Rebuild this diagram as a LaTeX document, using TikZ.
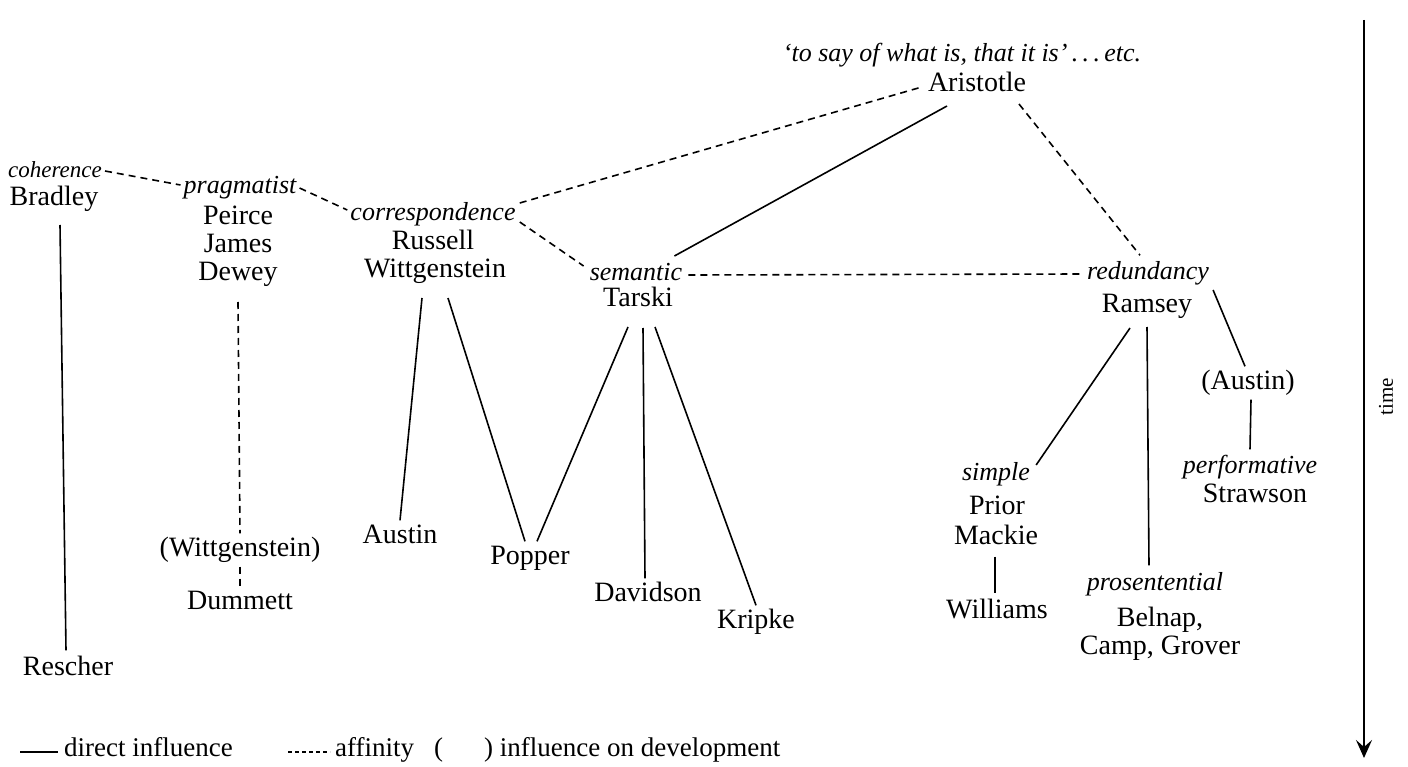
\documentclass[tikz,border=0pt]{standalone}
\usepackage{fontspec}
\setmainfont{Liberation Serif}
\usetikzlibrary{calc,arrows.meta}
\begin{document}
\begin{tikzpicture}[x=1pt,y=-1pt,
  nm/.style={inner sep=0pt, font=\fontsize{28}{32}\selectfont, text height=19pt, text depth=6pt},
  lab/.style={inner sep=0pt, font=\fontsize{26}{30}\selectfont\itshape, text height=19pt, text depth=6pt},
  leg/.style={inner sep=0pt, anchor=west, font=\fontsize{27}{31}\selectfont, text height=19pt, text depth=6pt},
  di/.style={line width=1.6pt},
  af/.style={line width=1.6pt, dash pattern=on 7pt off 5pt}]
\fill[white] (0,0) rectangle (1408,767);
\useasboundingbox (0,0) rectangle (1408,767);

% top
\node[lab] (quote) at (962,55) {`to say of what is, that it is'\,.\,.\,.\,etc.};
\node[nm] (arist) at (977,85) {Aristotle};

% coherence
\node[lab, font=\fontsize{23}{28}\selectfont\itshape] (coh) at (55,171) {coherence};
\node[nm] (bradley) at (54,199) {Bradley};
\node[nm] (rescher) at (68,669) {Rescher};

% pragmatist
\node[lab] (prag) at (240,187) {pragmatist};
\node[nm] (peirce) at (238,218) {Peirce};
\node[nm] (james) at (238,246) {James};
\node[nm] (dewey) at (238,274) {Dewey};
\node[nm] (wittp) at (240,550) {(Wittgenstein)};
\node[nm] (dummett) at (240,603) {Dummett};

% correspondence
\node[lab] (corr) at (433,214) {correspondence};
\node[nm] (russell) at (433,243) {Russell};
\node[nm] (witt) at (435,271) {Wittgenstein};
\node[nm] (austin) at (400,537) {Austin};
\node[nm] (popper) at (530,558) {Popper};

% semantic
\node[lab] (sem) at (636,274) {semantic};
\node[nm] (tarski) at (638,300) {Tarski};
\node[nm] (davidson) at (648,595) {Davidson};
\node[nm] (kripke) at (756,622) {Kripke};

% redundancy
\node[lab] (red) at (1148,273) {redundancy};
\node[nm] (ramsey) at (1147,306) {Ramsey};
\node[nm] (austinp) at (1248,383) {(Austin)};
\node[lab] (perf) at (1250,467) {performative};
\node[nm] (strawson) at (1255,496) {Strawson};
\node[lab] (simple) at (996,474) {simple};
\node[nm] (prior) at (997,508) {Prior};
\node[nm] (mackie) at (996,538) {Mackie};
\node[nm] (williams) at (997,612) {Williams};
\node[lab] (prosent) at (1155,584) {prosentential};
\node[nm] (belnap) at (1160,620) {Belnap,};
\node[nm] (camp) at (1160,648) {Camp, Grover};

% affinity (dashed)
\draw[af] ($(coh.east)+(3,0)$) -- ($(prag.west)+(-3,-2)$);
\draw[af] ($(prag.east)+(3,1)$) -- ($(corr.west)+(-3,-4)$);
\draw[af] ($(corr.east)+(4,-11)$) -- ($(arist.west)+(-6,2)$);
\draw[af] ($(corr.east)+(4,8)$) -- ($(sem.west)+(-6,-8)$);
\draw[af] ($(arist.center)+(42,19)$) -- ($(red.north)+(-8,-5)$);
\draw[af] ($(sem.east)+(6,1)$) -- ($(red.west)+(-5,1)$);
\draw[af] ($(dewey.center)+(0,28)$) -- ($(wittp.north)+(0,-4)$);
\draw[af] ($(wittp.south)+(0,4)$) -- ($(dummett.north)+(0,-4)$);

% direct influence (solid)
\draw[di] ($(arist.center)+(-30,21)$) -- ($(sem.east)+(-8,-18)$);
\draw[di] ($(bradley.center)+(6,26)$) -- ($(rescher.north)+(-2,-6)$);
\draw[di] ($(witt.center)+(-13,27)$) -- ($(austin.north)+(0,-4)$);
\draw[di] ($(witt.center)+(13,27)$) -- ($(popper.north)+(-5,-4)$);
\draw[di] ($(tarski.center)+(-10,27)$) -- ($(popper.north)+(7,-4)$);
\draw[di] ($(tarski.center)+(5,28)$) -- ($(davidson.north)+(-3,-4)$);
\draw[di] ($(tarski.center)+(17,27)$) -- ($(kripke.north)+(0,-4)$);
\draw[di] ($(ramsey.center)+(-17,22)$) -- ($(simple.east)+(6,-9)$);
\draw[di] ($(ramsey.center)+(0,21)$) -- ($(prosent.north)+(-6,-6)$);
\draw[di] ($(red.east)+(4,17)$) -- ($(austinp.north)+(-3,-4)$);
\draw[di] ($(austinp.south)+(3,4)$) -- ($(perf.north)+(0,-5)$);
\draw[di] ($(mackie.south)+(-1,6)$) -- ($(williams.north)+(-2,-6)$);

% time axis
\coordinate (ttop) at (1364,20);
\coordinate (tbot) at (1364,758);
\draw[line width=1.7pt, -{Stealth[length=18pt,width=16pt,inset=7pt]}] (ttop) -- (tbot);
\node[inner sep=0pt, rotate=90, font=\fontsize{21}{25}\selectfont] (time) at (1386,397) {time};

% legend
\coordinate (l1a) at (20,752);
\coordinate (l1b) at (58,752);
\draw[line width=1.9pt] (l1a) -- (l1b);
\node[leg] (ldi) at (64,750) {direct influence};
\coordinate (l2a) at (288,752);
\coordinate (l2b) at (330,752);
\draw[line width=1.7pt, dash pattern=on 4pt off 3pt] (l2a) -- (l2b);
\node[leg] (laf) at (335,750) {affinity};
\node[leg] (lpo) at (434,750) {(};
\node[leg] (lpc) at (484,750) {) influence on development};
\end{tikzpicture}
\end{document}
